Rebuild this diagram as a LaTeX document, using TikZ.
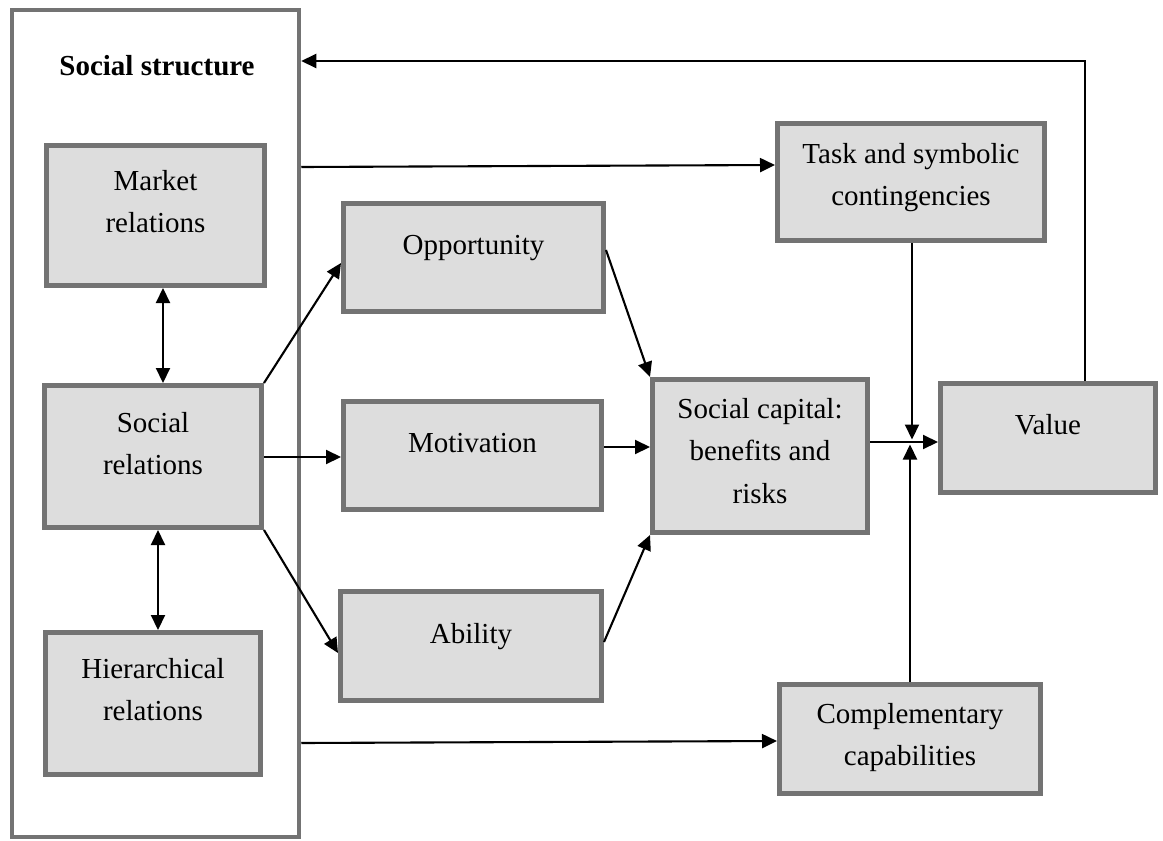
\documentclass[tikz,border=0pt]{standalone}
\usepackage{fontspec}
\setmainfont{Liberation Serif}
\usetikzlibrary{arrows.meta}
\definecolor{boxfill}{HTML}{DDDDDD}
\definecolor{boxedge}{HTML}{737373}
\tikzset{
  box/.style={draw=boxedge, fill=boxfill, line width=5pt, inner sep=0pt},
  lbl/.style={align=center, inner sep=0pt, font=\fontsize{29}{42.5}\selectfont},
  tip/.tip={Triangle[length=15pt,width=14pt]},
  conn/.style={line width=2.1pt, -tip},
  dbl/.style={line width=2.1pt, tip-tip}
}
\begin{document}
\begin{tikzpicture}[x=1pt,y=-1pt]
\useasboundingbox (0,0) rectangle (1163,841);

% social structure frame
\node[draw=boxedge, line width=4.5pt, inner sep=0pt, minimum width=287pt, minimum height=827pt] (ss) at (155.5,423.5) {};
\node[lbl, font=\fontsize{29}{42.5}\selectfont\bfseries] (ss-t) at (157,66.5) {Social structure\strut};

% boxes
\node[box, minimum width=218pt, minimum height=140pt] (mkt)  at (155.5,215.5) {};
\node[box, minimum width=217pt, minimum height=142pt] (soc)  at (153,456.5) {};
\node[box, minimum width=215pt, minimum height=142pt] (hier) at (153,703.5) {};
\node[box, minimum width=260pt, minimum height=108pt] (opp)  at (473.5,257.5) {};
\node[box, minimum width=258pt, minimum height=108pt] (mot)  at (472.5,455.5) {};
\node[box, minimum width=261pt, minimum height=109pt] (abl)  at (471,646) {};
\node[box, minimum width=215pt, minimum height=153pt] (sc)   at (760,456) {};
\node[box, minimum width=267pt, minimum height=117pt] (task) at (911,182) {};
\node[box, minimum width=261pt, minimum height=109pt] (comp) at (910,739) {};
\node[box, minimum width=215pt, minimum height=109pt] (val)  at (1048,438) {};

% box texts
\node[lbl] (mkt-t)  at (155.5,202.75) {Market\strut\\relations\strut};
\node[lbl] (soc-t)  at (153,444.75)   {Social\strut\\relations\strut};
\node[lbl] (hier-t) at (153,690.75)   {Hierarchical\strut\\relations\strut};
\node[lbl] (opp-t)  at (473.5,245.5)  {Opportunity\strut};
\node[lbl] (mot-t)  at (472.5,443.5)  {Motivation\strut};
\node[lbl] (abl-t)  at (471,634.5)    {Ability\strut};
\node[lbl] (sc-t)   at (760,452)      {Social capital:\strut\\benefits and\strut\\risks\strut};
\node[lbl] (task-t) at (911,175.75)   {Task and symbolic\strut\\contingencies\strut};
\node[lbl] (comp-t) at (910,735.75)   {Complementary\strut\\capabilities\strut};
\node[lbl] (val-t)  at (1048,425.5)   {Value\strut};

% connectors
\draw[dbl] (mkt.south -| 163,0) -- (soc.north -| 163,0);
\draw[dbl] (soc.south -| 158,0) -- (hier.north -| 158,0);

\draw[conn] (soc.north east) -- (opp.west |- 0,263);
\draw[conn] (soc.east |- 0,457) -- (mot.west |- 0,457);
\draw[conn] (soc.south east) -- (abl.west |- 0,653);

\draw[conn] (opp.east |- 0,250) -- (sc.north west);
\draw[conn] (mot.east |- 0,447) -- (sc.west |- 0,447);
\draw[conn] (abl.east |- 0,642) -- (sc.south west);

\draw[conn] (sc.east |- 0,442) -- (val.west |- 0,442);
\coordinate (jtop) at (912,439.5);
\coordinate (jbot) at (910,444.5);
\draw[conn] (task.south -| jtop) -- (jtop);
\draw[conn] (comp.north -| jbot) -- (jbot);

\draw[conn] (ss.east |- 0,167) -- (task.west |- 0,165);
\draw[conn] (ss.east |- 0,743) -- (comp.west |- 0,741);

\coordinate (fb) at (1085,61);
\draw[conn] (val.north -| fb) -- (fb) -- (ss.east |- fb);
\end{tikzpicture}
\end{document}
